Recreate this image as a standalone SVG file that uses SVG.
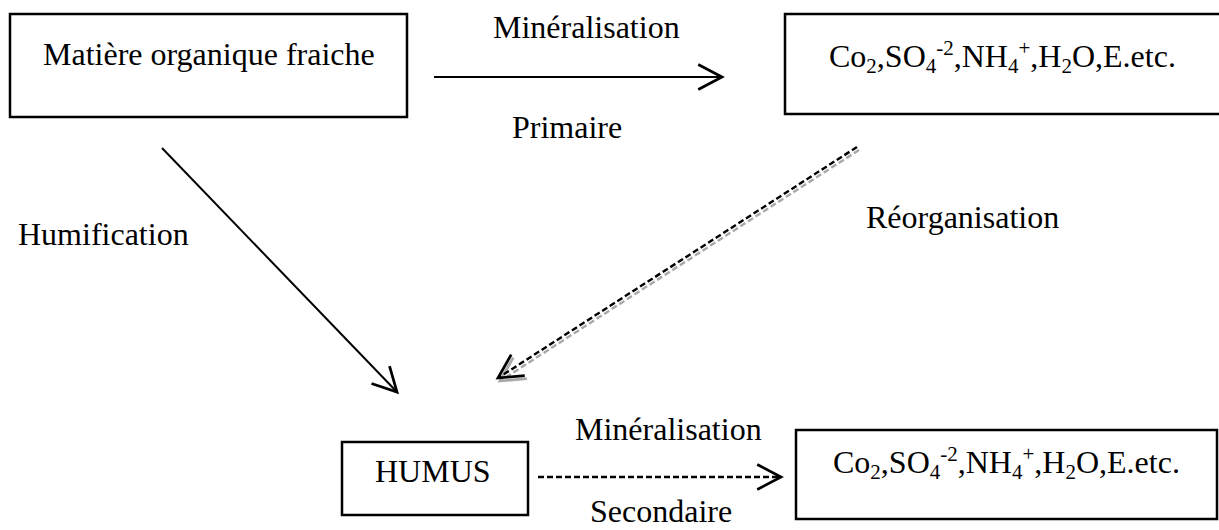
<svg xmlns="http://www.w3.org/2000/svg" width="1219" height="530" viewBox="0 0 1219 530">
<style>
.box{fill:#fff;stroke:#000;stroke-width:2.5}
.t{font-family:"Liberation Serif","Times New Roman",serif;font-size:32px;fill:#000}
.s{font-size:21px}
.ln{fill:none;stroke:#000;stroke-width:2}
.dsh{stroke-dasharray:6 3;stroke-width:2.4}
.gr{fill:none;stroke:#a8a8a8;stroke-width:2.4;stroke-dasharray:6 3}
</style>
<defs>
<marker id="ah" markerUnits="userSpaceOnUse" markerWidth="30" markerHeight="30" refX="20" refY="11" orient="auto" viewBox="0 0 24 22">
<polyline points="1,1 20,11 1,21" fill="none" stroke="#000" stroke-width="2.2"/>
</marker>
<marker id="ahg" markerUnits="userSpaceOnUse" markerWidth="30" markerHeight="30" refX="20" refY="11" orient="auto" viewBox="0 0 24 22">
<polyline points="1,1 20,11 1,21" fill="none" stroke="#a8a8a8" stroke-width="2.2"/>
</marker>
</defs>
<g id="connectors">
<line class="ln" x1="434" y1="77" x2="722" y2="77" marker-end="url(#ah)"/>
<line class="ln" x1="162" y1="148" x2="397" y2="392" marker-end="url(#ah)"/>
<line class="gr" x1="859" y1="150" x2="500" y2="381" marker-end="url(#ahg)"/>
<line class="ln dsh" x1="857" y1="147" x2="498" y2="378" marker-end="url(#ah)"/>
<line class="ln dsh" x1="538" y1="477" x2="781" y2="477" marker-end="url(#ah)"/>
</g>
<g id="labels">
<text class="t" x="493" y="38">Minéralisation</text>
<text class="t" x="512" y="138">Primaire</text>
<text class="t" x="18" y="245">Humification</text>
<text class="t" x="866" y="228">Réorganisation</text>
<text class="t" x="575" y="440">Minéralisation</text>
<text class="t" x="590" y="522">Secondaire</text>
</g>
<g id="node-mof">
<rect class="box" x="10" y="14" width="397" height="103"/>
<text class="t" x="43" y="65">Matière organique fraiche</text>
</g>
<g id="node-min1">
<rect class="box" x="785" y="14" width="445" height="100"/>
<text class="t" x="829" y="67">Co<tspan class="s" dy="6">2</tspan><tspan dy="-6">,SO</tspan><tspan class="s" dy="6">4</tspan><tspan class="s" dy="-18">-2</tspan><tspan dy="12">,NH</tspan><tspan class="s" dy="6">4</tspan><tspan class="s" dy="-18">+</tspan><tspan dy="12">,H</tspan><tspan class="s" dy="6">2</tspan><tspan dy="-6">O,E.etc.</tspan></text>
</g>
<g id="node-humus">
<rect class="box" x="342" y="442" width="186" height="73"/>
<text class="t" x="375" y="482">HUMUS</text>
</g>
<g id="node-min2">
<rect class="box" x="796" y="430" width="421" height="89"/>
<text class="t" x="833" y="473">Co<tspan class="s" dy="6">2</tspan><tspan dy="-6">,SO</tspan><tspan class="s" dy="6">4</tspan><tspan class="s" dy="-18">-2</tspan><tspan dy="12">,NH</tspan><tspan class="s" dy="6">4</tspan><tspan class="s" dy="-18">+</tspan><tspan dy="12">,H</tspan><tspan class="s" dy="6">2</tspan><tspan dy="-6">O,E.etc.</tspan></text>
</g>
</svg>
